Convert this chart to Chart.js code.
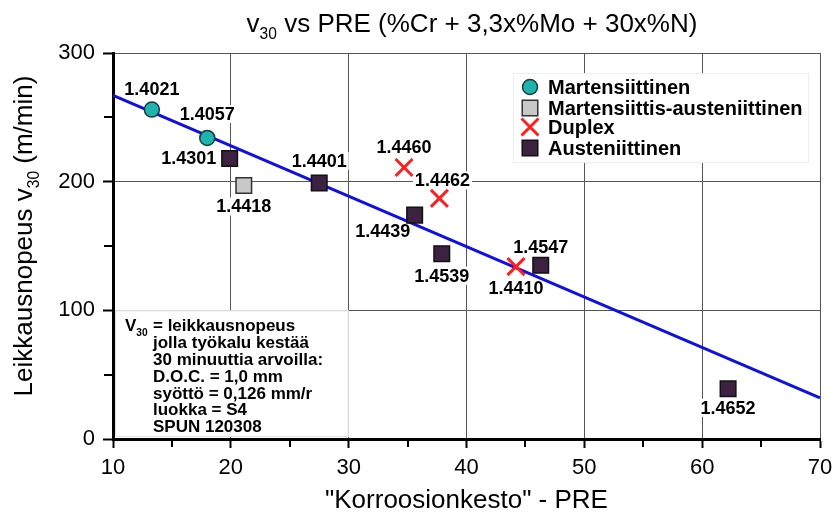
<!DOCTYPE html>
<html>
<head>
<meta charset="utf-8">
<script src="https://cdn.jsdelivr.net/npm/chart.js@4.4.0/dist/chart.umd.min.js"></script>
<style>
    html, body { margin: 0; padding: 0; background: #fff; }
    #wrap { width: 835px; height: 512px; position: relative; }
</style>
</head>
<body>
<div id="wrap"><canvas id="myChart"></canvas></div>
<script>
// PRE (x) ja v30 (y), luettu kuvasta
const martX = [13.3, 18.0];
const martY = [256, 234];
const martNames = ['1.4021', '1.4057'];

const martAustX = [21.1];
const martAustY = [197];
const martAustNames = ['1.4418'];

const duplexX = [34.7, 37.7, 44.2];
const duplexY = [211, 187, 134];
const duplexNames = ['1.4460', '1.4462', '1.4410'];

const austX = [19.9, 27.5, 35.6, 37.9, 46.3, 62.2];
const austY = [218, 199, 174, 144, 135, 39];
const austNames = ['1.4301', '1.4401', '1.4439', '1.4539', '1.4547', '1.4652'];

const trendX = [10, 70];
const trendY = [267, 32];

const xTicks = [10, 20, 30, 40, 50, 60, 70];
const yTicks = [0, 100, 200, 300];

const noteLines = [
    'jolla työkalu kestää',
    '30 minuuttia arvoilla:',
    'D.O.C. = 1,0 mm',
    'syöttö = 0,126 mm/r',
    'luokka = S4',
    'SPUN 120308'
];

(() => {
    const FAM = '"Liberation Sans", Arial, sans-serif';
    const pts = (xs, ys) => xs.map((x, i) => ({ x: x, y: ys[i] }));

    // write text with subscript parts: [text, isSub]
    const subText = (ctx, parts, x, y, size, bold, align) => {
        const f = s => (bold ? 'bold ' : '') + s + 'px ' + FAM;
        let w = 0;
        parts.forEach(p => { ctx.font = f(p[1] ? size * 0.6 : size); w += ctx.measureText(p[0]).width; });
        let cx = align === 'center' ? x - w / 2 : x;
        ctx.textAlign = 'left';
        ctx.textBaseline = 'alphabetic';
        parts.forEach(p => {
            ctx.font = f(p[1] ? size * 0.6 : size);
            ctx.fillText(p[0], cx, p[1] ? y + size * 0.25 : y);
            cx += ctx.measureText(p[0]).width;
        });
    };

    const marker = (ctx, ds, x, y) => {
        ctx.save();
        ctx.lineWidth = ds.borderWidth;
        ctx.strokeStyle = ds.borderColor;
        ctx.fillStyle = ds.backgroundColor;
        const r = ds.pointRadius;
        ctx.beginPath();
        if (ds.pointStyle === 'circle') {
            ctx.arc(x, y, r, 0, Math.PI * 2);
            ctx.fill(); ctx.stroke();
        } else if (ds.pointStyle === 'rect') {
            const s = Math.SQRT1_2 * r;
            ctx.rect(x - s, y - s, 2 * s, 2 * s);
            ctx.fill(); ctx.stroke();
        } else {
            const s = Math.SQRT1_2 * r;
            ctx.moveTo(x - s, y - s); ctx.lineTo(x + s, y + s);
            ctx.moveTo(x + s, y - s); ctx.lineTo(x - s, y + s);
            ctx.stroke();
        }
        ctx.restore();
    };

    const labelFont = 'bold 18px ' + FAM;

    const decor = {
        id: 'decor',
        beforeDatasetsDraw(chart) {
            const ctx = chart.ctx, a = chart.chartArea;
            const xs = chart.scales.x, ys = chart.scales.y;
            ctx.save();
            // note box
            const nx0 = xs.getPixelForValue(10) + 2, nx1 = xs.getPixelForValue(30);
            const ny0 = ys.getPixelForValue(100), ny1 = ys.getPixelForValue(0) - 2;
            ctx.fillStyle = '#fff';
            ctx.fillRect(nx0, ny0, nx1 - nx0, ny1 - ny0);
            ctx.strokeStyle = '#e2e2e2';
            ctx.lineWidth = 1;
            ctx.strokeRect(nx0 + 0.5, ny0 + 0.5, nx1 - nx0 - 1, ny1 - ny0 - 1);
            // legend box
            ctx.fillStyle = '#fff';
            ctx.fillRect(a.left + 400, a.top + 20, 295, 89);
            ctx.strokeStyle = '#eeeeee';
            ctx.strokeRect(a.left + 400.5, a.top + 20.5, 295, 89);
            // label backgrounds
            ctx.font = labelFont;
            chart.data.datasets.forEach((ds, di) => {
                if (!ds.names) return;
                chart.getDatasetMeta(di).data.forEach((el, i) => {
                    const o = ds.labelOffsets[i];
                    const w = ctx.measureText(ds.names[i]).width;
                    ctx.fillStyle = '#fff';
                    ctx.fillRect(el.x + o[0] - w / 2 - 2, el.y + o[1] - 9, w + 4, 18);
                });
            });
            ctx.restore();
        },
        afterDraw(chart) {
            const ctx = chart.ctx, a = chart.chartArea;
            const xs = chart.scales.x, ys = chart.scales.y;
            ctx.save();
            ctx.fillStyle = '#000';
            // minor ticks
            ctx.strokeStyle = '#000';
            ctx.lineWidth = 2;
            ctx.beginPath();
            for (let v = 15; v < 70; v += 10) {
                const px = Math.round(xs.getPixelForValue(v));
                ctx.moveTo(px, a.bottom); ctx.lineTo(px, a.bottom + 8);
            }
            for (let v = 50; v < 300; v += 100) {
                const py = Math.round(ys.getPixelForValue(v));
                ctx.moveTo(a.left, py); ctx.lineTo(a.left - 9, py);
            }
            ctx.stroke();

            // titles
            subText(ctx, [['v', 0], ['30', 1], [' vs PRE (%Cr + 3,3x%Mo + 30x%N)', 0]], 472, 32, 26, false, 'center');
            subText(ctx, [['"Korroosionkesto" - PRE', 0]], (a.left + a.right) / 2, 508, 26, false, 'center');
            ctx.save();
            ctx.translate(32, 236);
            ctx.rotate(-Math.PI / 2);
            subText(ctx, [['Leikkausnopeus v', 0], ['30', 1], [' (m/min)', 0]], 0, 0, 26, false, 'center');
            ctx.restore();

            // point labels
            ctx.font = labelFont;
            ctx.textAlign = 'center';
            ctx.textBaseline = 'middle';
            ctx.fillStyle = '#000';
            chart.data.datasets.forEach((ds, di) => {
                if (!ds.names) return;
                chart.getDatasetMeta(di).data.forEach((el, i) => {
                    const o = ds.labelOffsets[i];
                    ctx.fillText(ds.names[i], el.x + o[0], el.y + o[1] + 1);
                });
            });

            // note text
            const nx = xs.getPixelForValue(10), ny = ys.getPixelForValue(100);
            subText(ctx, [['V', 0], ['30', 1]], nx + 12, ny + 21, 17, true, 'left');
            subText(ctx, [['= leikkausnopeus', 0]], nx + 40, ny + 21, 17, true, 'left');
            noteLines.forEach((t, i) => {
                subText(ctx, [[t, 0]], nx + 40, ny + 21 + (i + 1) * 16.8, 17, true, 'left');
            });

            // legend
            const rowsY = [87, 108, 127, 148].map(v => v - 53 + a.top);
            chart.data.datasets.slice(0, 4).forEach((ds, i) => {
                marker(ctx, ds, a.left + 417, rowsY[i]);
                ctx.font = 'bold 20px ' + FAM;
                ctx.fillStyle = '#000';
                ctx.textAlign = 'left';
                ctx.textBaseline = 'middle';
                ctx.fillText(ds.label, a.left + 435, rowsY[i] + 1, 256);
            });
            ctx.restore();
        }
    };

    const ctx = document.getElementById('myChart');
    new Chart(ctx, {
        type: 'scatter',
        data: {
            datasets: [
                {
                    label: 'Martensiittinen',
                    data: pts(martX, martY),
                    names: martNames,
                    labelOffsets: [[0, -21], [0, -24]],
                    pointStyle: 'circle',
                    pointRadius: 7.5,
                    backgroundColor: '#1db3ae',
                    borderColor: '#1e3a3a',
                    borderWidth: 1.5
                },
                {
                    label: 'Martensiittis-austeniittinen',
                    data: pts(martAustX, martAustY),
                    names: martAustNames,
                    labelOffsets: [[0, 21]],
                    pointStyle: 'rect',
                    pointRadius: 11,
                    backgroundColor: '#c8c8c8',
                    borderColor: '#333',
                    borderWidth: 1.5
                },
                {
                    label: 'Duplex',
                    data: pts(duplexX, duplexY),
                    names: duplexNames,
                    labelOffsets: [[0, -20], [3, -18], [0, 21]],
                    pointStyle: 'crossRot',
                    pointRadius: 12,
                    backgroundColor: '#ff1f1f',
                    borderColor: '#ff1f1f',
                    borderWidth: 3
                },
                {
                    label: 'Austeniittinen',
                    data: pts(austX, austY),
                    names: austNames,
                    labelOffsets: [[-41, 0], [0, -22], [-32, 16], [0, 22], [0, -18], [0, 19]],
                    pointStyle: 'rect',
                    pointRadius: 11,
                    backgroundColor: '#3c2240',
                    borderColor: '#111',
                    borderWidth: 1.5
                },
                {
                    label: 'trend',
                    data: pts(trendX, trendY),
                    showLine: true,
                    borderColor: '#1010e0',
                    borderWidth: 3,
                    pointRadius: 0
                }
            ]
        },
        options: {
            responsive: true,
            maintainAspectRatio: false,
            animation: false,
            layout: { padding: { top: 53, right: 15, bottom: 0, left: 0 } },
            plugins: { legend: { display: false }, tooltip: { enabled: false } },
            scales: {
                x: {
                    type: 'linear',
                    min: 10,
                    max: 70,
                    afterBuildTicks: s => { s.ticks = xTicks.map(v => ({ value: v })); },
                    afterFit: s => { s.height = 73; s.paddingRight = 0; s.paddingLeft = 0; },
                    ticks: { color: '#000', font: { size: 22, family: FAM }, padding: 7, maxRotation: 0 },
                    grid: { color: '#555', lineWidth: 1, tickColor: '#000', tickLength: 9, tickWidth: 2 },
                    border: { color: '#000', width: 3 }
                },
                y: {
                    type: 'linear',
                    min: 0,
                    max: 300,
                    afterBuildTicks: s => { s.ticks = yTicks.map(v => ({ value: v })); },
                    afterFit: s => { s.width = 113; },
                    ticks: { color: '#000', font: { size: 22, family: FAM }, padding: 8 },
                    grid: { color: '#555', lineWidth: 1, tickColor: '#000', tickLength: 10, tickWidth: 2 },
                    border: { color: '#000', width: 3 }
                }
            }
        },
        plugins: [decor]
    });
})();
</script>
</body>
</html>
